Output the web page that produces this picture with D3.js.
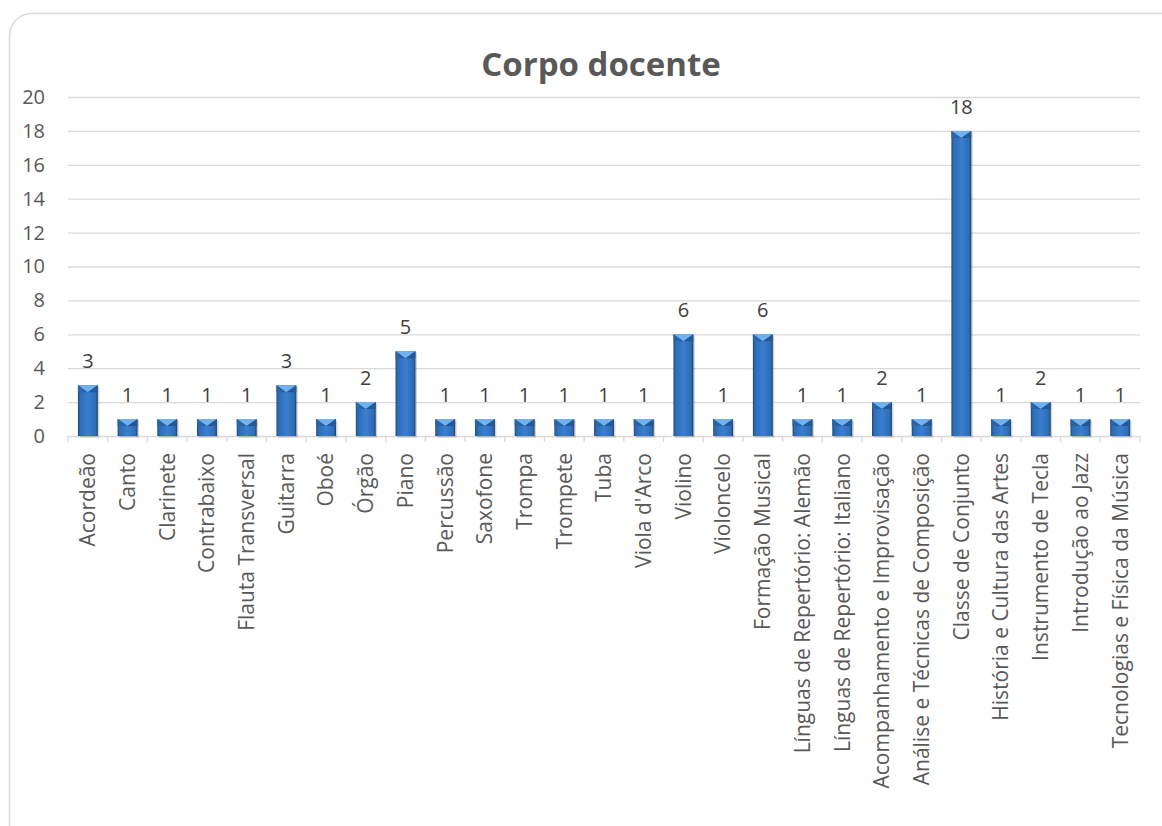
<!DOCTYPE html>
<html><head><meta charset="utf-8">
<script src="https://cdn.jsdelivr.net/npm/d3@7"></script>
<style>body{margin:0;background:#fff}svg{display:block}</style>
</head><body><svg id="c" width="1162" height="826"></svg>
<script>
const categories = ["Acordeão","Canto","Clarinete","Contrabaixo","Flauta Transversal","Guitarra","Oboé","Órgão","Piano","Percussão","Saxofone","Trompa","Trompete","Tuba","Viola d'Arco","Violino","Violoncelo","Formação Musical","Línguas de Repertório: Alemão","Línguas de Repertório: Italiano","Acompanhamento e Improvisação","Análise e Técnicas de Composição","Classe de Conjunto","História e Cultura das Artes","Instrumento de Tecla","Introdução ao Jazz","Tecnologias e Física da Música"];
const values = [3,1,1,1,1,3,1,2,5,1,1,1,1,1,1,6,1,6,1,1,2,1,18,1,2,1,1];
const yTicks = [0,2,4,6,8,10,12,14,16,18,20];
const title = "Corpo docente";

const svg = d3.select("#c");
const font = "'Open Sans', sans-serif";
const defs = svg.append("defs");
const g1 = defs.append("linearGradient").attr("id","bar").attr("x1",0).attr("x2",1).attr("y1",0).attr("y2",0);
[[0,"#1b4677"],[0.1,"#2d6cb4"],[0.5,"#3a7ed0"],[0.9,"#2d6cb4"],[1,"#163c68"]].forEach(([o,c])=>g1.append("stop").attr("offset",o).attr("stop-color",c));

svg.append("rect").attr("x",9.5).attr("y",13.5).attr("width",1175).attr("height",840).attr("rx",22)
  .attr("fill","#fff").attr("stroke","#d9d9d9").attr("stroke-width",1.5);

svg.append("text").attr("x",601).attr("y",76).attr("text-anchor","middle")
  .attr("font-family",font).attr("font-weight","bold").attr("font-size",33).attr("fill","#595959").text(title);

const x = d3.scaleBand().domain(categories).range([68,1140]).paddingInner(0.5).paddingOuter(0.25);
const y = d3.scaleLinear().domain([0,20]).range([436,97]);
const step = x.step();
const x0 = 68;

// grid
svg.append("g").selectAll("line").data(yTicks.filter(d=>d>0)).join("line")
  .attr("x1",x0).attr("x2",1140).attr("y1",d=>y(d)+0.5).attr("y2",d=>y(d)+0.5)
  .attr("stroke","#d9d9d9").attr("stroke-width",1.3);

// y axis labels
const ya = svg.append("g").attr("transform",`translate(${x0},0)`)
  .call(d3.axisLeft(y).tickValues(yTicks).tickSize(0).tickPadding(23));
ya.select(".domain").remove();
ya.selectAll("text").attr("font-family",font).attr("font-size",20).attr("fill","#595959");

// x axis line and ticks
svg.append("line").attr("x1",x0).attr("x2",1140).attr("y1",y(0)+0.5).attr("y2",y(0)+0.5).attr("stroke","#d9d9d9").attr("stroke-width",1.3);
svg.append("g").selectAll("line").data(d3.range(categories.length+1)).join("line")
  .attr("x1",i=>x0+i*step).attr("x2",i=>x0+i*step).attr("y1",y(0)).attr("y2",y(0)+6)
  .attr("stroke","#d9d9d9").attr("stroke-width",1.3);

// bars
const bw = x.bandwidth();
const bars = svg.append("g").selectAll("g").data(categories).join("g");
bars.append("rect").attr("x",d=>x(d)+1.5).attr("y",(d,i)=>y(values[i])+1.5).attr("width",bw).attr("height",(d,i)=>y(0)-y(values[i])).attr("fill","#000").attr("opacity",0.18);
bars.append("rect").attr("x",d=>x(d)).attr("y",(d,i)=>y(values[i])).attr("width",bw).attr("height",(d,i)=>y(0)-y(values[i])).attr("fill","url(#bar)");
const bev = 7;
bars.append("path").attr("d",(d,i)=>{const l=x(d),r=l+bw,t=y(values[i]);return `M${l},${t}L${r},${t}L${l+bw/2},${t+bev}Z`;}).attr("fill","#6fb2ef");
bars.append("path").attr("d",(d,i)=>{const l=x(d),r=l+bw,t=y(values[i]);return `M${l},${t}L${l+bw/2},${t+bev}L${l},${t+bev}Z`;}).attr("fill","#2b63a6");
bars.append("path").attr("d",(d,i)=>{const l=x(d),r=l+bw,t=y(values[i]);return `M${r},${t}L${l+bw/2},${t+bev}L${r},${t+bev}Z`;}).attr("fill","#255894");

// value labels
svg.append("g").selectAll("text").data(categories).join("text")
  .attr("x",d=>x(d)+bw/2).attr("y",(d,i)=>y(values[i])-17).attr("text-anchor","middle")
  .attr("font-family",font).attr("font-size",20).attr("fill","#404040").text((d,i)=>values[i]);

// category labels
const xa = svg.append("g").attr("transform",`translate(0,${y(0)})`).call(d3.axisBottom(x).tickSize(0).tickPadding(0));
xa.select(".domain").remove();
xa.selectAll("text").attr("font-family",font).attr("font-size",21).attr("fill","#595959")
  .attr("transform","rotate(-90)").attr("text-anchor","end").attr("x",-17).attr("y",0).attr("dy","0.35em");
</script></body></html>
